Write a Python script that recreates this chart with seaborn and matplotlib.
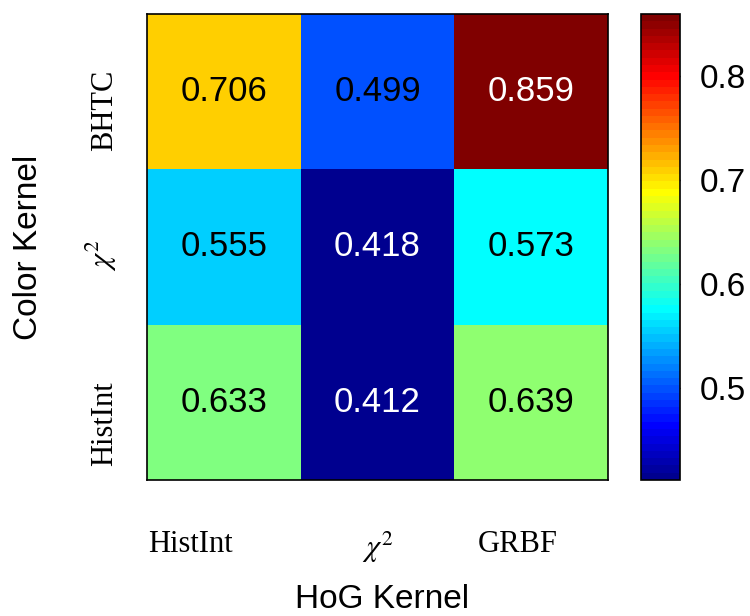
import numpy as np
import pandas as pd
import seaborn as sns
import matplotlib.pyplot as plt
from matplotlib.colors import ListedColormap
from matplotlib.transforms import ScaledTranslation

# Heatmap data: rows = color kernel (top to bottom), columns = HoG kernel
hog_kernels = ['HistInt', r'$\chi^2$', 'GRBF']
color_kernels = ['BHTC', r'$\chi^2$', 'HistInt']
row_bhtc = [0.706, 0.499, 0.859]
row_chi2 = [0.555, 0.418, 0.573]
row_histint = [0.633, 0.412, 0.639]
cbar_ticks = [0.5, 0.6, 0.7, 0.8]


def matlab_jet(m=64):
    # same construction as MATLAB's jet(m)
    n = int(np.ceil(m / 4))
    u = np.concatenate([np.arange(1, n + 1) / n, np.ones(n - 1), np.arange(n, 0, -1) / n])
    g = int(np.ceil(n / 2)) - int(m % 4 == 1) + np.arange(1, len(u) + 1)
    r = g + n
    b = g - n
    rgb = np.zeros((m, 3))
    for idx, ch in ((r, 0), (g, 1), (b, 2)):
        ok = (idx >= 1) & (idx <= m)
        rgb[idx[ok] - 1, ch] = u[ok]
    return ListedColormap(rgb)


def main():
    sns.set_style('white')
    plt.rcParams['font.family'] = ['Liberation Sans', 'DejaVu Sans']
    plt.rcParams['mathtext.fontset'] = 'stix'
    for k in ['text.color', 'axes.labelcolor', 'xtick.color', 'ytick.color']:
        plt.rcParams[k] = 'black'

    df = pd.DataFrame([row_bhtc, row_chi2, row_histint],
                      index=color_kernels, columns=hog_kernels)
    vals = df.values
    vmin, vmax = vals.min(), vals.max()

    fig = plt.figure(figsize=(7.5, 6.16), dpi=100)
    ax = fig.add_axes([147 / 750, 1 - 480 / 616, 461 / 750, 466 / 616])
    cax = fig.add_axes([641 / 750, 1 - 480 / 616, 39 / 750, 466 / 616])

    sns.heatmap(df, ax=ax, cbar_ax=cax, cmap=matlab_jet(64),
                vmin=vmin, vmax=vmax, annot=True, fmt='.3f',
                annot_kws={'size': 25})

    # dark cells get white text, the rest black
    for txt in ax.texts:
        v = float(txt.get_text())
        txt.set_color('white' if (v < 0.45 or v > 0.8) else 'black')

    for s in ax.spines.values():
        s.set_visible(True)
        s.set_color('black')
        s.set_linewidth(1.2)

    ax.tick_params(length=0)
    ax.tick_params(axis='x', pad=36)
    ax.tick_params(axis='y', pad=20)
    ax.set_xticklabels(hog_kernels, family='Liberation Serif', fontsize=22, rotation=0)
    ax.set_yticklabels(color_kernels, family='Liberation Serif', fontsize=22,
                       rotation=90, va='center')

    # nudge tick labels (pixels) to where the original placed them
    x_shift = [-33, 0, -13]
    y_shift = [-19, -8, -21]
    for tick, dx in zip(ax.xaxis.get_major_ticks(), x_shift):
        tick.label1.set_transform(tick.label1.get_transform() +
                                  ScaledTranslation(dx / 100, 0, fig.dpi_scale_trans))
    for tick, dy in zip(ax.yaxis.get_major_ticks(), y_shift):
        tick.label1.set_transform(tick.label1.get_transform() +
                                  ScaledTranslation(0, dy / 100, fig.dpi_scale_trans))

    ax.set_xlabel('HoG Kernel', fontsize=24)
    ax.set_ylabel('Color Kernel', fontsize=24)
    ax.xaxis.set_label_coords(0.5 + 5 / 461, -(584 - 480) / 466)
    ax.yaxis.set_label_coords(-(147 - 44) / 461, 0.5)

    cb = ax.collections[0].colorbar
    cb.outline.set_linewidth(1.2)
    cb.outline.set_edgecolor('black')
    cb.set_ticks(cbar_ticks)
    cb.set_ticklabels(['0.5', '0.6', '0.7', '0.8'])
    cax.tick_params(direction='in', left=True, right=True, length=4,
                    width=1, labelsize=24, pad=14)

    fig.savefig('out.png', dpi=100)


if __name__ == "__main__":
    main()
